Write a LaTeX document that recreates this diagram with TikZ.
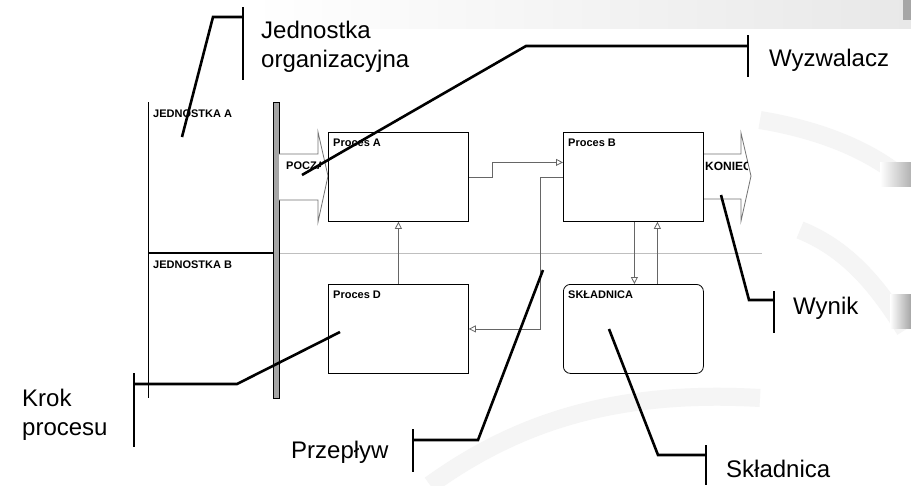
\documentclass[tikz,border=0pt]{standalone}
\usepackage{fontspec}
\setmainfont{Liberation Sans}
\usetikzlibrary{arrows.meta}
\begin{document}
\begin{tikzpicture}[x=1pt,y=-1pt,
  box/.style={draw=black, line width=0.8pt, fill=white, minimum width=140pt, minimum height=89pt, anchor=north west, inner sep=0pt},
  boxlabel/.style={font=\fontsize{11}{13}\selectfont\bfseries, anchor=base west, inner sep=0pt},
  flow/.style={draw=black!60, line width=0.8pt, -{Triangle[open,length=7pt,width=7pt]}},
  bigarrow/.style={draw=black!55, line width=0.8pt, fill=white},
  callout/.style={line width=2.6pt, black, line join=miter},
  ctext/.style={font=\fontsize{24}{29}\selectfont, align=left, inner sep=0pt, anchor=base west},
  deco/.style={line width=18pt, black!4},
]
\fill[white] (0,0) rectangle (911,485);
\useasboundingbox (0,0) rectangle (911,485);
% background decorations
\shade[left color=white, right color=black!9] (250,0) rectangle (911,28);
\draw[deco] (430,485) .. controls (520,420) and (620,390) .. (760,398);
\draw[deco] (800,230) .. controls (850,250) and (880,290) .. (905,330);
\draw[deco] (760,120) .. controls (820,130) and (870,150) .. (905,180);
\shade[left color=white, right color=black!30] (880,162) rectangle (911,186);
\shade[left color=white, right color=black!35] (890,294) rectangle (911,328);
\fill[black!35] (903,0) rectangle (911,20);

% lanes
\draw[black, line width=1pt] (148,102) -- (148,398);
\node[boxlabel] (laneA) at (153,117) {JEDNOSTKA A};
\node[boxlabel] (laneB) at (153,268) {JEDNOSTKA B};
\draw[black, line width=1.6pt] (148,253) -- (273,253);
\draw[black!25, line width=0.8pt] (279,253) -- (762,253);
\filldraw[fill=black!35, draw=black, line width=0.8pt] (273,102) rectangle (279,398);

% start / end arrows
\draw[bigarrow] (279,154) -- (318,154) -- (318,132) -- (328,176) -- (318,222) -- (318,200) -- (279,200);
\begin{scope}
\clip (279,140) rectangle (320,200);
\node[boxlabel] (start) at (286,169) {POCZĄTEK};
\end{scope}
\draw[bigarrow] (703,154) -- (741,154) -- (741,133) -- (751,176) -- (741,221) -- (741,199) -- (703,199);
\begin{scope}
\clip (703,140) rectangle (747,200);
\node[boxlabel, font=\fontsize{12}{14}\selectfont\bfseries] (end) at (705,170) {KONIEC};
\end{scope}

% process boxes
\node[box] (A) at (328,132) {};
\node[boxlabel] at ([shift={(5,14)}]A.north west) {Proces A};
\node[box] (B) at (563,132) {};
\node[boxlabel] at ([shift={(5,14)}]B.north west) {Proces B};
\node[box] (D) at (328,284) {};
\node[boxlabel] at ([shift={(5,14)}]D.north west) {Proces D};
\node[box, rounded corners=7pt] (S) at (563,284) {};
\node[boxlabel] at ([shift={(5,14)}]S.north west) {SKŁADNICA};

% flows
\draw[flow] (A.east) -- ++(24,0) |- ([yshift=14.5pt]B.west);
\draw[flow] (B.west) -- ++(-23,0) |- (D.east);
\draw[flow] (D.north) -- (A.south);
\draw[flow] ([xshift=1pt]B.south) -- ([xshift=1pt]S.north);
\draw[flow] ([xshift=24pt]S.north) -- ([xshift=24pt]B.south);

% callouts
\coordinate (t1) at (182,137);
\coordinate (b1) at (243,17);
\draw[callout] (t1) -- (213,17) -- (b1);
\draw[callout] (243,7) -- (243,80);
\node[ctext] (c1) at (261,67) {Jednostka\\organizacyjna};

\coordinate (t2) at (302,175);
\coordinate (b2) at (748,46);
\draw[callout] (t2) -- (526,46) -- (b2);
\draw[callout] (748,35) -- (748,77);
\node[ctext] (c2) at (769,66) {Wyzwalacz};

\coordinate (t3) at (721,195);
\coordinate (b3) at (774,300);
\draw[callout] (t3) -- (749,300) -- (b3);
\draw[callout] (774,291) -- (774,333);
\node[ctext] (c3) at (793,314) {Wynik};

\coordinate (t4) at (340,332);
\coordinate (b4) at (134,384);
\draw[callout] (t4) -- (237,384) -- (b4);
\draw[callout] (134,373) -- (134,447);
\node[ctext] (c4) at (22,435) {Krok\\procesu};

\coordinate (t5) at (543,270);
\coordinate (b5) at (413,440);
\draw[callout] (t5) -- (478,440) -- (b5);
\draw[callout] (413,429) -- (413,472);
\node[ctext] (c5) at (291,458) {Przepływ};

\coordinate (t6) at (609,329);
\coordinate (b6) at (706,455);
\draw[callout] (t6) -- (658,455) -- (b6);
\draw[callout] (706,445) -- (706,485);
\node[ctext] (c6) at (726,477) {Składnica};
\end{tikzpicture}
\end{document}
